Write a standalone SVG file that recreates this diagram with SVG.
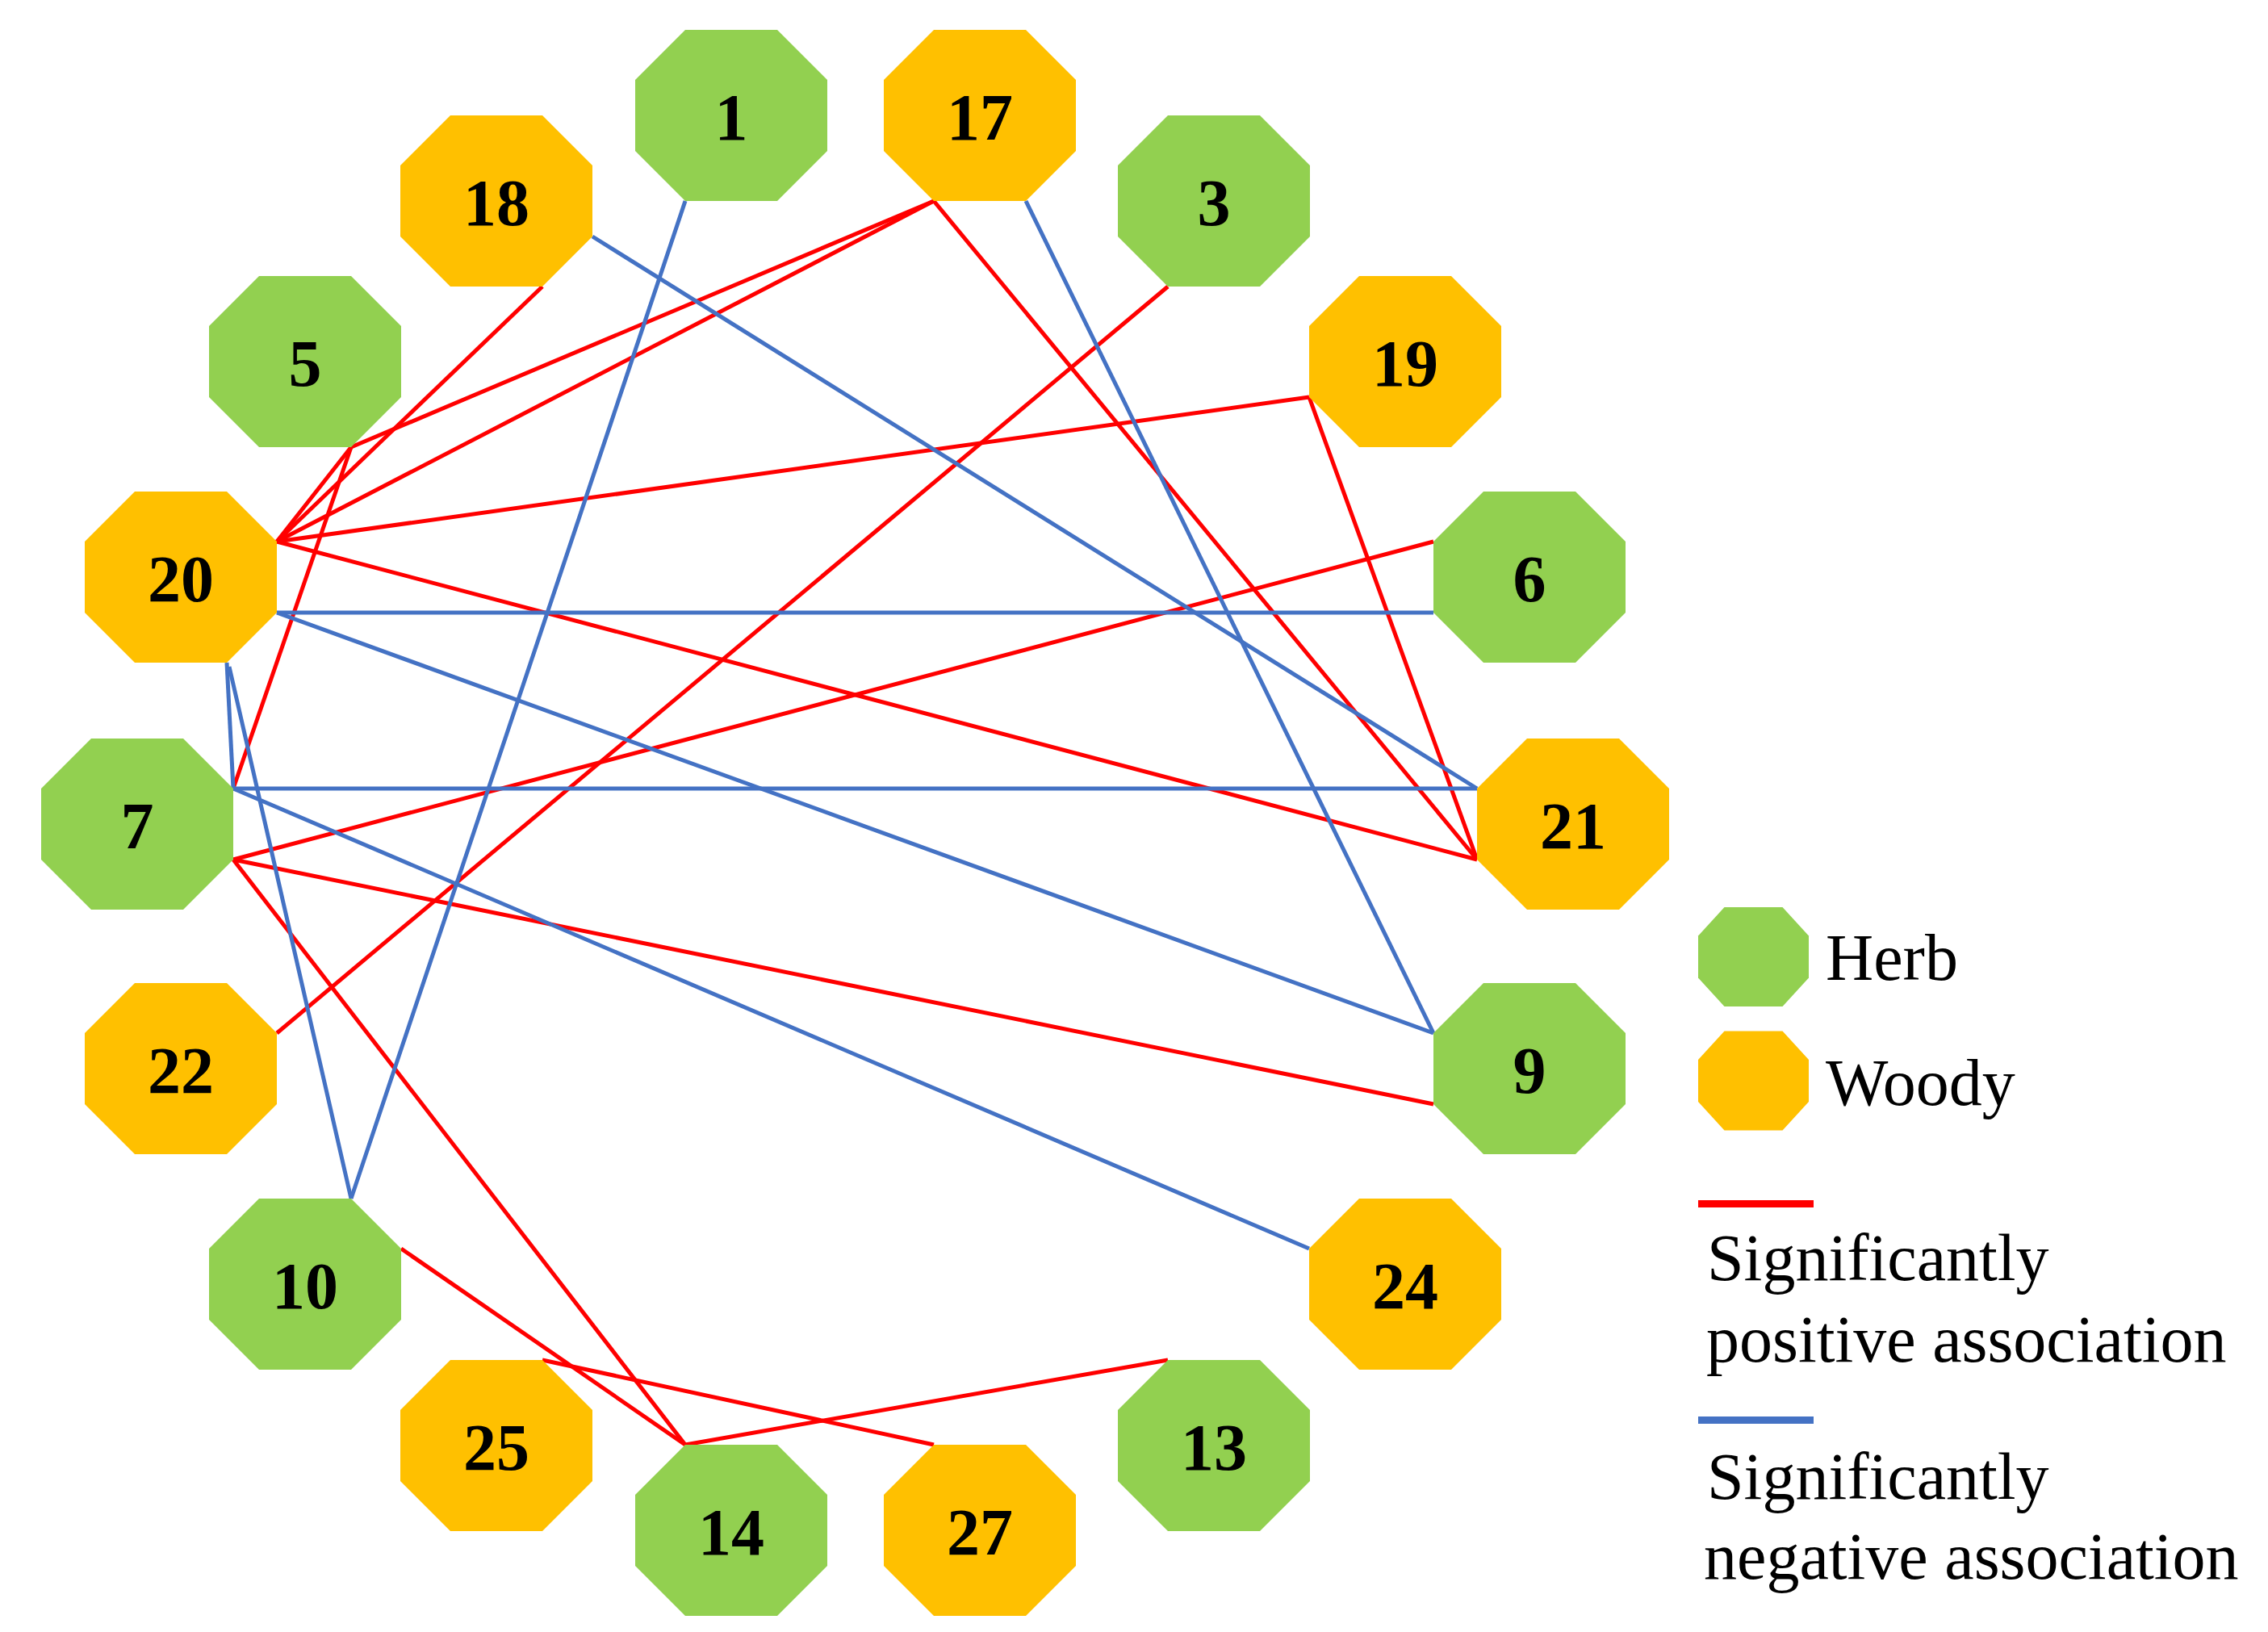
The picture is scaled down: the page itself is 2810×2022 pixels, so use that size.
<svg xmlns="http://www.w3.org/2000/svg" xmlns:xlink="http://www.w3.org/1999/xlink" width="2810" height="2022" viewBox="0 0 2810 2022">
<style>
.herb{fill:#92D050}
.woody{fill:#FFC000}
.pos{stroke:#FF0000;stroke-width:5;fill:none}
.neg{stroke:#4472C4;stroke-width:5;fill:none}
.lbl{font-family:"Liberation Serif","Times New Roman",serif;font-weight:bold;font-size:82px;text-anchor:middle;fill:#000}
.leg{font-family:"Liberation Serif","Times New Roman",serif;font-size:82px;fill:#000}
</style>
<defs>
<polygon id="oct" points="-57,-106 57,-106 119,-44 119,44 57,106 -57,106 -119,44 -119,-44"/>
<polygon id="soct" points="-36,-61.5 36,-61.5 68.5,-26 68.5,26 36,61.5 -36,61.5 -68.5,26 -68.5,-26"/>
</defs>
<rect width="2810" height="2022" fill="#fff"/>
<g id="connectors">
<line class="pos" x1="672" y1="355" x2="343" y2="671"/>
<line class="pos" x1="1157" y1="249" x2="343" y2="671"/>
<line class="pos" x1="1157" y1="249" x2="435" y2="554"/>
<line class="pos" x1="435" y1="554" x2="343" y2="671"/>
<line class="pos" x1="435" y1="554" x2="289" y2="977"/>
<line class="pos" x1="1622" y1="492" x2="343" y2="671"/>
<line class="pos" x1="1622" y1="492" x2="1830" y2="1065"/>
<line class="pos" x1="1157" y1="249" x2="1830" y2="1065"/>
<line class="pos" x1="343" y1="671" x2="1830" y2="1065"/>
<line class="pos" x1="1447" y1="355" x2="343" y2="1280"/>
<line class="pos" x1="1776" y1="671" x2="289" y2="1065"/>
<line class="pos" x1="289" y1="1065" x2="1776" y2="1368"/>
<line class="pos" x1="289" y1="1065" x2="849" y2="1790"/>
<line class="pos" x1="497" y1="1547" x2="849" y2="1790"/>
<line class="pos" x1="849" y1="1790" x2="1447" y2="1685"/>
<line class="pos" x1="672" y1="1685" x2="1157" y2="1790"/>
<line class="neg" x1="734" y1="293" x2="1830" y2="977"/>
<line class="neg" x1="849" y1="249" x2="435" y2="1485"/>
<line class="neg" x1="1271" y1="249" x2="1776" y2="1280"/>
<line class="neg" x1="343" y1="759" x2="1776" y2="759"/>
<line class="neg" x1="343" y1="759" x2="1776" y2="1280"/>
<line class="neg" x1="281" y1="821" x2="289" y2="977"/>
<line class="neg" x1="284" y1="826" x2="435" y2="1485"/>
<line class="neg" x1="289" y1="977" x2="1830" y2="977"/>
<line class="neg" x1="289" y1="977" x2="1622" y2="1547"/>
</g>
<g id="n1"><use xlink:href="#oct" href="#oct" class="herb" x="906" y="143"/><text class="lbl" x="906" y="173">1</text></g>
<g id="n17"><use xlink:href="#oct" href="#oct" class="woody" x="1214" y="143"/><text class="lbl" x="1214" y="173">17</text></g>
<g id="n18"><use xlink:href="#oct" href="#oct" class="woody" x="615" y="249"/><text class="lbl" x="615" y="279">18</text></g>
<g id="n3"><use xlink:href="#oct" href="#oct" class="herb" x="1504" y="249"/><text class="lbl" x="1504" y="279">3</text></g>
<g id="n5"><use xlink:href="#oct" href="#oct" class="herb" x="378" y="448"/><text class="lbl" x="378" y="478">5</text></g>
<g id="n19"><use xlink:href="#oct" href="#oct" class="woody" x="1741" y="448"/><text class="lbl" x="1741" y="478">19</text></g>
<g id="n20"><use xlink:href="#oct" href="#oct" class="woody" x="224" y="715"/><text class="lbl" x="224" y="745">20</text></g>
<g id="n6"><use xlink:href="#oct" href="#oct" class="herb" x="1895" y="715"/><text class="lbl" x="1895" y="745">6</text></g>
<g id="n7"><use xlink:href="#oct" href="#oct" class="herb" x="170" y="1021"/><text class="lbl" x="170" y="1051">7</text></g>
<g id="n21"><use xlink:href="#oct" href="#oct" class="woody" x="1949" y="1021"/><text class="lbl" x="1949" y="1051">21</text></g>
<g id="n22"><use xlink:href="#oct" href="#oct" class="woody" x="224" y="1324"/><text class="lbl" x="224" y="1354">22</text></g>
<g id="n9"><use xlink:href="#oct" href="#oct" class="herb" x="1895" y="1324"/><text class="lbl" x="1895" y="1354">9</text></g>
<g id="n10"><use xlink:href="#oct" href="#oct" class="herb" x="378" y="1591"/><text class="lbl" x="378" y="1621">10</text></g>
<g id="n24"><use xlink:href="#oct" href="#oct" class="woody" x="1741" y="1591"/><text class="lbl" x="1741" y="1621">24</text></g>
<g id="n25"><use xlink:href="#oct" href="#oct" class="woody" x="615" y="1791"/><text class="lbl" x="615" y="1821">25</text></g>
<g id="n13"><use xlink:href="#oct" href="#oct" class="herb" x="1504" y="1791"/><text class="lbl" x="1504" y="1821">13</text></g>
<g id="n14"><use xlink:href="#oct" href="#oct" class="herb" x="906" y="1896"/><text class="lbl" x="906" y="1926">14</text></g>
<g id="n27"><use xlink:href="#oct" href="#oct" class="woody" x="1214" y="1896"/><text class="lbl" x="1214" y="1926">27</text></g>
<g id="legend">
<use xlink:href="#soct" href="#soct" class="herb" x="2172.5" y="1185.5"/>
<text class="leg" x="2262" y="1214">Herb</text>
<use xlink:href="#soct" href="#soct" class="woody" x="2172.5" y="1339"/>
<text class="leg" x="2262" y="1369">Woody</text>
<rect x="2104" y="1487" width="143" height="9" fill="#FF0000"/>
<text class="leg" x="2115" y="1586">Significantly</text>
<text class="leg" x="2114" y="1687">positive association</text>
<rect x="2104" y="1755" width="143" height="9" fill="#4472C4"/>
<text class="leg" x="2115" y="1857">Significantly</text>
<text class="leg" x="2111" y="1956">negative association</text>
</g>
</svg>
